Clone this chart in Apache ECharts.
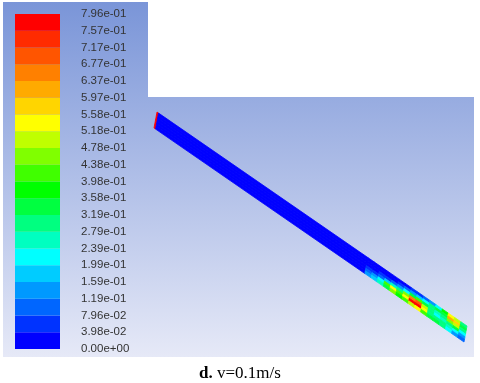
<!DOCTYPE html>
<html>
<head>
<meta charset="utf-8">
<script src="https://cdn.jsdelivr.net/npm/echarts@6/dist/echarts.min.js"></script>
<style>
  html, body { margin: 0; padding: 0; background: #fff; }
  #chart { width: 480px; height: 383px; }
</style>
</head>
<body>
<div id="chart"></div>
<script>
// colour scale labels (velocity magnitude, m/s), bottom to top
const tickLabels = [
  "0.00e+00", "3.98e-02", "7.96e-02", "1.19e-01", "1.59e-01", "1.99e-01",
  "2.39e-01", "2.79e-01", "3.19e-01", "3.58e-01", "3.98e-01", "4.38e-01",
  "4.78e-01", "5.18e-01", "5.58e-01", "5.97e-01", "6.37e-01", "6.77e-01",
  "7.17e-01", "7.57e-01", "7.96e-01"
];
const levels = tickLabels.map(Number);
// band colours, bottom to top
const bandColors = [
  "#0000ff", "#0033ff", "#0066ff", "#0099ff", "#00ccff",
  "#00ffff", "#00ffc0", "#00ff80", "#00ff40", "#00ff00",
  "#40ff00", "#80ff00", "#c0ff00", "#ffff00", "#ffd500",
  "#ffaa00", "#ff8000", "#ff5500", "#ff2b00", "#ff0000"
];

// pipe cells: s = position along the pipe (0 inlet .. 1 outlet), t = across (0 top .. 1 bottom)
const sEdges = [0, 0.005, 0.68, 0.70, 0.72, 0.74, 0.76, 0.78, 0.80, 0.82,
  0.84, 0.86, 0.88, 0.90, 0.92, 0.94, 0.96, 0.98, 1.0];
const tEdges = [0, 0.17, 0.33, 0.5, 0.67, 0.83, 1];
// velocity per column (top -> bottom)
const velocity = [
  [0.79, 0.79, 0.79, 0.79, 0.79, 0.79],
  [0.01, 0.01, 0.01, 0.01, 0.01, 0.01],
  [0.01, 0.01, 0.02, 0.04, 0.08, 0.12],
  [0.01, 0.01, 0.03, 0.06, 0.14, 0.18],
  [0.01, 0.02, 0.04, 0.10, 0.20, 0.25],
  [0.01, 0.02, 0.05, 0.18, 0.40, 0.35],
  [0.02, 0.03, 0.08, 0.25, 0.55, 0.45],
  [0.02, 0.05, 0.14, 0.30, 0.42, 0.38],
  [0.03, 0.10, 0.22, 0.45, 0.55, 0.40],
  [0.05, 0.15, 0.35, 0.65, 0.76, 0.50],
  [0.06, 0.18, 0.40, 0.70, 0.78, 0.55],
  [0.08, 0.22, 0.35, 0.50, 0.55, 0.40],
  [0.12, 0.28, 0.30, 0.28, 0.30, 0.32],
  [0.20, 0.32, 0.26, 0.22, 0.30, 0.35],
  [0.38, 0.35, 0.30, 0.25, 0.30, 0.28],
  [0.55, 0.60, 0.45, 0.30, 0.25, 0.20],
  [0.50, 0.58, 0.50, 0.35, 0.22, 0.15],
  [0.30, 0.35, 0.30, 0.20, 0.14, 0.10]
];

// pipe geometry in the view's units
const pipeOrigin = [0.09, 2.45];
const pipeAlong = [3.10, -2.14];
const pipeAcross = [-0.03, -0.16];

function pipePoint(s, t) {
  return [
    pipeOrigin[0] + s * pipeAlong[0] + t * pipeAcross[0],
    pipeOrigin[1] + s * pipeAlong[1] + t * pipeAcross[1]
  ];
}

const cellData = [];
velocity.forEach((col, i) => {
  col.forEach((v, j) => cellData.push([i, j, v]));
});
const barData = bandColors.map((c, k) => [k, k + 1, (levels[k] + levels[k + 1]) / 2]);

const chart = echarts.init(document.getElementById("chart"));
const bg = {
  type: "linear", x: 0, y: 2, x2: 0, y2: 357, global: true,
  colorStops: [
    { offset: 0, color: "#7a95d8" },
    { offset: 1, color: "#e6e9f7" }
  ]
};

chart.setOption({
  animation: false,
  title: {
    text: "{b|d.} v=0.1m/s",
    left: "center",
    top: 360,
    textStyle: {
      fontFamily: "Liberation Serif",
      fontSize: 17,
      fontWeight: "normal",
      color: "#000",
      rich: { b: { fontFamily: "Liberation Serif", fontSize: 17, fontWeight: "bold", color: "#000" } }
    }
  },
  graphic: [
    { type: "rect", z: -10, silent: true, shape: { x: 3, y: 2, width: 145, height: 355 }, style: { fill: bg } },
    { type: "rect", z: -10, silent: true, shape: { x: 148, y: 97, width: 326, height: 260 }, style: { fill: bg } }
  ],
  visualMap: {
    type: "piecewise",
    show: false,
    dimension: 2,
    seriesIndex: [0, 1],
    pieces: bandColors.map((c, k) => (k === bandColors.length - 1
      ? { gte: levels[k], lte: levels[k + 1], color: c }
      : { gte: levels[k], lt: levels[k + 1], color: c }))
  },
  grid: [
    { left: 15, top: 14, width: 45, height: 335 },
    { left: 148, top: 97, width: 326, height: 260 }
  ],
  xAxis: [
    { gridIndex: 0, type: "value", min: 0, max: 1, show: false },
    { gridIndex: 1, type: "value", min: 0, max: 3.26, show: false }
  ],
  yAxis: [
    {
      gridIndex: 0, type: "value", min: 0, max: 20, interval: 1, position: "right",
      axisLine: { show: false }, axisTick: { show: false }, splitLine: { show: false },
      axisLabel: {
        margin: 21,
        fontSize: 11.5,
        fontFamily: "Liberation Sans",
        color: "#333",
        formatter: (v) => tickLabels[v]
      }
    },
    { gridIndex: 1, type: "value", min: 0, max: 2.6, show: false }
  ],
  series: [
    {
      type: "custom",
      xAxisIndex: 0,
      yAxisIndex: 0,
      data: barData,
      renderItem: (params, api) => {
        const p0 = api.coord([0, api.value(0)]);
        const p1 = api.coord([1, api.value(1)]);
        return {
          type: "rect",
          shape: { x: p0[0], y: p1[1], width: p1[0] - p0[0], height: p0[1] - p1[1] },
          style: { fill: api.visual("color") }
        };
      }
    },
    {
      type: "custom",
      xAxisIndex: 1,
      yAxisIndex: 1,
      data: cellData,
      renderItem: (params, api) => {
        const i = api.value(0), j = api.value(1);
        const s0 = sEdges[i], s1 = sEdges[i + 1];
        const t0 = tEdges[j], t1 = tEdges[j + 1];
        const pts = [
          api.coord(pipePoint(s0, t0)),
          api.coord(pipePoint(s1, t0)),
          api.coord(pipePoint(s1, t1)),
          api.coord(pipePoint(s0, t1))
        ];
        const color = api.visual("color");
        return {
          type: "polygon",
          shape: { points: pts },
          style: { fill: color, stroke: color, lineWidth: 0.8 }
        };
      }
    }
  ]
});
</script>
</body>
</html>
